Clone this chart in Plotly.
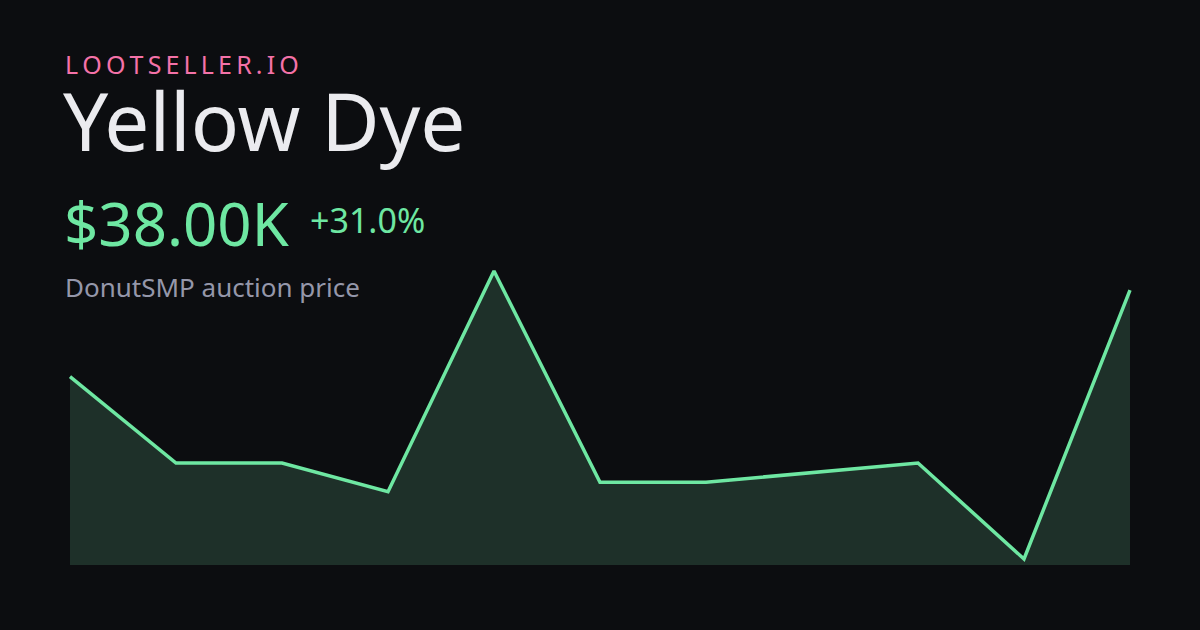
import plotly.graph_objects as go

# Data (prices in thousands)
days = list(range(11))
prices_k = [29, 20, 20, 17, 40, 18, 18, 19, 20, 10, 38]

brand = "LOOTSELLER.IO"
item_name = "Yellow Dye"
price_label = "$38.00K"
change_label = "+31.0%"
subtitle = "DonutSMP auction price"

BG = "#0c0d10"
GREEN = "#6ee7a2"
FILL = "#1e3029"

W, H = 1200, 630
ML, MR, MT, MB = 68, 68, 263, 65
PW, PH = W - ML - MR, H - MT - MB

lo, hi = min(prices_k), max(prices_k)
span = hi - lo
y_bottom = lo - span * 0.625 / 30
y_top = hi + span * (8 / 288)
x_pad = 2 / 106

fig = go.Figure()
fig.add_trace(go.Scatter(
    x=days, y=prices_k, mode="lines",
    line=dict(color=GREEN, width=3.5),
    fill="tozeroy", fillcolor=FILL,
    hoverinfo="skip", showlegend=False,
))


def px(x, y):
    return (x - ML) / PW, (H - MB - y) / PH


def ann(text, x, y, size, color, anchor="top"):
    ax, ay = px(x, y)
    fig.add_annotation(
        text=text, x=ax, y=ay, xref="paper", yref="paper",
        xanchor="left", yanchor=anchor, showarrow=False,
        font=dict(family="Noto Sans", size=size, color=color),
    )


spaced = "\u2009".join(brand)
ann(spaced, 63, 45, 25, "#f472a8")
ann(item_name, 61, 63, 80, "#ebebef")
ann(price_label, 62, 180, 60, GREEN)
ann(change_label, 308, 195, 34, GREEN)
ann(subtitle, 63, 267, 26, "#9597aa")

fig.update_layout(
    width=W, height=H,
    margin=dict(l=ML, r=MR, t=MT, b=MB),
    paper_bgcolor=BG, plot_bgcolor=BG,
    xaxis=dict(range=[-x_pad, 10 + x_pad], visible=False, fixedrange=True),
    yaxis=dict(range=[y_bottom, y_top], visible=False, fixedrange=True),
)

fig.write_html(
    "out.html",
    config={"displayModeBar": False},
    post_script="document.body.style.margin='0';document.body.style.background='#0c0d10';",
)
